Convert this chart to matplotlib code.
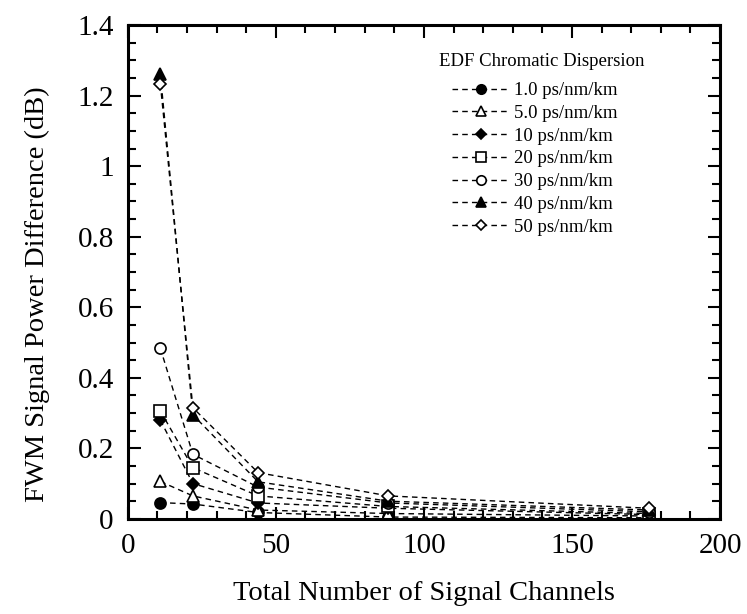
import matplotlib
matplotlib.use("Agg")
import matplotlib.pyplot as plt
from matplotlib.ticker import MultipleLocator

plt.rcParams['font.family'] = ['Liberation Serif', 'DejaVu Serif']

channels = [11, 22, 44, 88, 176]

labels = ['1.0 ps/nm/km', '5.0 ps/nm/km', '10 ps/nm/km', '20 ps/nm/km',
          '30 ps/nm/km', '40 ps/nm/km', '50 ps/nm/km']
disp_1 = [0.046, 0.042, 0.018, 0.005, 0.003]
disp_5 = [0.106, 0.065, 0.025, 0.015, 0.008]
disp_10 = [0.280, 0.100, 0.045, 0.030, 0.012]
disp_20 = [0.306, 0.145, 0.065, 0.035, 0.015]
disp_30 = [0.484, 0.183, 0.090, 0.045, 0.020]
disp_40 = [1.262, 0.295, 0.105, 0.050, 0.025]
disp_50 = [1.234, 0.315, 0.131, 0.065, 0.030]

series = [disp_1, disp_5, disp_10, disp_20, disp_30, disp_40, disp_50]
markers = ['o', '^', 'D', 's', 'o', '^', 'D']
filled = [True, False, True, False, False, True, False]
sizes = [8, 8, 6, 8, 8, 8, 6]

fig = plt.figure(figsize=(7.47, 6.14), dpi=100)
ax = fig.add_axes([0.171, 0.155, 0.793, 0.804])

for vals, lab, m, f, ms in zip(series, labels, markers, filled, sizes):
    ax.plot(channels, vals, linestyle=(0, (4, 3)), color='black', lw=1,
            marker=m, markersize=ms, markerfacecolor='black' if f else 'white',
            markeredgecolor='black', markeredgewidth=1.2, label=lab)

ax.set_xlim(0, 200)
ax.set_ylim(0, 1.4)
ax.xaxis.set_major_locator(MultipleLocator(50))
ax.xaxis.set_minor_locator(MultipleLocator(10))
ax.yaxis.set_minor_locator(MultipleLocator(0.05))
ax.set_yticks([0, 0.2, 0.4, 0.6, 0.8, 1.0, 1.2, 1.4])
ax.set_yticklabels(['0', '0.2', '0.4', '0.6', '0.8', '1', '1.2', '1.4'])
ax.tick_params(which='both', direction='in', top=True, right=True, labelsize=21, width=1.5)
ax.tick_params(which='major', length=9, pad=10)
ax.tick_params(which='minor', length=6)
for s in ax.spines.values():
    s.set_linewidth(2.2)

ax.set_xlabel('Total Number of Signal Channels', fontsize=20.5, labelpad=16)
ax.set_ylabel('FWM Signal Power Difference (dB)', fontsize=20.5)
ax.yaxis.set_label_coords(-0.132, 0.455)

# legend title drawn separately to get the larger gap above the entries
fig.text(542 / 747, 1 - 61 / 614, 'EDF Chromatic Dispersion', fontsize=13.5,
         ha='center', va='center')
leg = ax.legend(loc='upper left', bbox_to_anchor=(452 / 747, 1 - 82 / 614),
                bbox_transform=fig.transFigure, frameon=False,
                borderpad=0, borderaxespad=0, fontsize=13.5,
                handlelength=3.1, handletextpad=0.2, labelspacing=0.3,
                markerscale=0.85)

fig.savefig('out.png', dpi=100)
